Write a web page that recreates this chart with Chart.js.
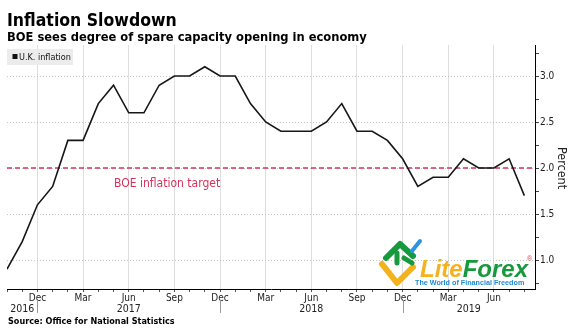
<!DOCTYPE html>
<html>
<head>
<meta charset="utf-8">
<script src="https://cdn.jsdelivr.net/npm/chart.js@4.4.1/dist/chart.umd.min.js"></script>
<style>
  html, body { margin: 0; padding: 0; background: #fff; }
  canvas { display: block; }
</style>
</head>
<body>
<canvas id="chart" width="581" height="336"></canvas>
<script>
// Monthly CPI readings, Oct 2016 .. Aug 2019
const months = [
  'Oct 2016', 'Nov 2016', 'Dec 2016',
  'Jan 2017', 'Feb 2017', 'Mar 2017', 'Apr 2017', 'May 2017', 'Jun 2017',
  'Jul 2017', 'Aug 2017', 'Sep 2017', 'Oct 2017', 'Nov 2017', 'Dec 2017',
  'Jan 2018', 'Feb 2018', 'Mar 2018', 'Apr 2018', 'May 2018', 'Jun 2018',
  'Jul 2018', 'Aug 2018', 'Sep 2018', 'Oct 2018', 'Nov 2018', 'Dec 2018',
  'Jan 2019', 'Feb 2019', 'Mar 2019', 'Apr 2019', 'May 2019', 'Jun 2019',
  'Jul 2019', 'Aug 2019'
];
const inflation = [
  0.9, 1.2, 1.6,
  1.8, 2.3, 2.3, 2.7, 2.9, 2.6, 2.6, 2.9, 3.0, 3.0, 3.1, 3.0,
  3.0, 2.7, 2.5, 2.4, 2.4, 2.4, 2.5, 2.7, 2.4, 2.4, 2.3, 2.1,
  1.8, 1.9, 1.9, 2.1, 2.0, 2.0, 2.1, 1.7
];
const target = 2.0;
const labelMonths = ['Dec', 'Mar', 'Jun', 'Sep'];
const years = ['2016', '2017', '2018', '2019'];
const yLabels = [1.0, 1.5, 2.0, 2.5, 3.0];

const X_MAX = 34.7;
const Y_MIN = 0.685, Y_MAX = 3.337;
const RED = '#d6325b';
const COND = "'DejaVu Sans Condensed', 'DejaVu Sans', sans-serif";

const isLabelMonth = i => months[i] && labelMonths.includes(months[i].slice(0, 3));
const isHalf = v => Math.abs(v * 2 - Math.round(v * 2)) < 1e-6;

function drawLogo(ctx) {
  ctx.save();
  ctx.lineCap = 'round';
  ctx.lineJoin = 'round';
  // yellow V
  ctx.strokeStyle = '#f5b21f';
  ctx.lineWidth = 6;
  ctx.beginPath();
  ctx.moveTo(382, 264); ctx.lineTo(397, 283); ctx.lineTo(413, 267);
  ctx.stroke();
  // green chevron
  ctx.strokeStyle = '#17993d';
  ctx.beginPath();
  ctx.moveTo(386, 258); ctx.lineTo(400, 244); ctx.lineTo(413, 256);
  ctx.stroke();
  ctx.lineWidth = 5;
  ctx.beginPath();
  ctx.moveTo(397, 253); ctx.lineTo(397, 263);
  ctx.moveTo(404, 258); ctx.lineTo(412, 263);
  ctx.stroke();
  // blue stroke
  ctx.strokeStyle = '#2d95e0';
  ctx.lineWidth = 4;
  ctx.beginPath();
  ctx.moveTo(412, 251); ctx.lineTo(420, 241);
  ctx.stroke();
  // word mark
  ctx.textBaseline = 'alphabetic';
  ctx.textAlign = 'left';
  ctx.font = "italic bold 24px 'Liberation Sans', Arial, sans-serif";
  ctx.fillStyle = '#f5b21f';
  ctx.fillText('Lite', 420, 277);
  const w = ctx.measureText('Lite').width;
  ctx.fillStyle = '#17993d';
  ctx.fillText('Forex', 420 + w, 277);
  ctx.fillStyle = '#e0454f';
  ctx.font = "7px 'Liberation Sans', Arial, sans-serif";
  ctx.fillText('\u00AE', 527, 261);
  ctx.fillStyle = '#1f8ad0';
  ctx.font = "bold 7.2px 'Liberation Sans', Arial, sans-serif";
  ctx.fillText('The World of Financial Freedom', 415, 285);
  ctx.restore();
}

const decor = {
  id: 'decor',
  afterDraw(chart) {
    const ctx = chart.ctx;
    const x = chart.scales.x;
    const y = chart.scales.y;
    ctx.save();
    ctx.textAlign = 'left';
    ctx.textBaseline = 'alphabetic';

    // titles
    ctx.fillStyle = '#000';
    ctx.font = 'bold 17.5px ' + COND;
    ctx.fillText('Inflation Slowdown', 7, 26);
    ctx.font = 'bold 12.8px ' + COND;
    ctx.fillText('BOE sees degree of spare capacity opening in economy', 7, 40.5);

    // legend
    ctx.fillStyle = '#ececec';
    ctx.fillRect(7, 49, 66, 16);
    ctx.fillStyle = '#111';
    ctx.fillRect(12.5, 54, 5, 5);
    ctx.font = '9px ' + COND;
    ctx.fillText('U.K. inflation', 19, 60);

    // target label
    ctx.fillStyle = RED;
    ctx.font = '12px ' + COND;
    ctx.fillText('BOE inflation target', 114, 187);

    // axis title
    ctx.save();
    ctx.translate(558, y.getPixelForValue(target));
    ctx.rotate(Math.PI / 2);
    ctx.textAlign = 'center';
    ctx.fillStyle = '#222';
    ctx.font = '12.5px ' + COND;
    ctx.fillText('Percent', 0, 0);
    ctx.restore();

    // year separators + labels
    const seps = [];
    months.forEach((m, i) => { if (m.startsWith('Dec')) seps.push(i); });
    ctx.strokeStyle = '#999';
    ctx.lineWidth = 1;
    seps.forEach(i => {
      const px = Math.round(x.getPixelForValue(i)) + 0.5;
      ctx.beginPath();
      ctx.moveTo(px, 300);
      ctx.lineTo(px, 313);
      ctx.stroke();
    });
    const bounds = [x.min].concat(seps, [x.max]);
    ctx.fillStyle = '#222';
    ctx.font = '10.5px ' + COND;
    ctx.textAlign = 'center';
    ctx.textBaseline = 'middle';
    years.forEach((yr, k) => {
      const cx = (x.getPixelForValue(bounds[k]) + x.getPixelForValue(bounds[k + 1])) / 2;
      ctx.fillText(yr, cx, 309);
    });

    // source
    ctx.textAlign = 'left';
    ctx.textBaseline = 'alphabetic';
    ctx.fillStyle = '#000';
    ctx.font = 'bold 9px ' + COND;
    ctx.fillText('Source: Office for National Statistics', 8, 323.5);

    drawLogo(ctx);
    ctx.restore();
  }
};

new Chart(document.getElementById('chart'), {
  type: 'line',
  data: {
    datasets: [
      {
        label: 'U.K. inflation',
        data: inflation.map((v, i) => ({ x: i, y: v })),
        borderColor: '#161616',
        borderWidth: 1.6,
        pointRadius: 0,
        tension: 0
      },
      {
        label: 'BOE inflation target',
        data: [{ x: 0, y: target }, { x: X_MAX, y: target }],
        borderColor: RED,
        borderWidth: 1.5,
        borderDash: [5, 3],
        pointRadius: 0
      }
    ]
  },
  options: {
    responsive: false,
    animation: false,
    events: [],
    layout: { padding: { left: 7, top: 45, right: 0, bottom: 27 } },
    plugins: {
      legend: { display: false },
      tooltip: { enabled: false }
    },
    scales: {
      x: {
        type: 'linear',
        min: 0,
        max: X_MAX,
        afterBuildTicks: s => { s.ticks = months.map((m, i) => ({ value: i })); },
        afterFit: s => { s.height = 20; },
        ticks: {
          autoSkip: false,
          maxRotation: 0,
          minRotation: 0,
          padding: 0,
          color: '#222',
          font: { family: COND, size: 10 },
          callback: v => isLabelMonth(v) ? months[v].slice(0, 3) : ''
        },
        grid: {
          color: c => (c.tick && isLabelMonth(c.tick.value)) ? '#dedede' : 'rgba(0,0,0,0)',
          tickColor: '#555',
          tickLength: 3
        },
        border: { color: '#000', width: 1 }
      },
      y: {
        position: 'right',
        min: Y_MIN,
        max: Y_MAX,
        afterBuildTicks: s => {
          const t = [];
          for (let k = 3; k <= 13; k++) t.push({ value: k / 4 });
          s.ticks = t;
        },
        afterFit: s => { s.width = 46; },
        ticks: {
          padding: 1,
          color: '#222',
          font: { family: COND, size: 10 },
          callback: v => yLabels.some(l => Math.abs(l - v) < 1e-6) ? v.toFixed(1) : ''
        },
        grid: {
          color: c => (c.tick && isHalf(c.tick.value)) ? '#c4c4c4' : 'rgba(0,0,0,0)',
          tickColor: '#444',
          tickLength: 4
        },
        border: { color: '#000', width: 1, dash: [1, 2] }
      }
    }
  },
  plugins: [decor]
});
</script>
</body>
</html>
